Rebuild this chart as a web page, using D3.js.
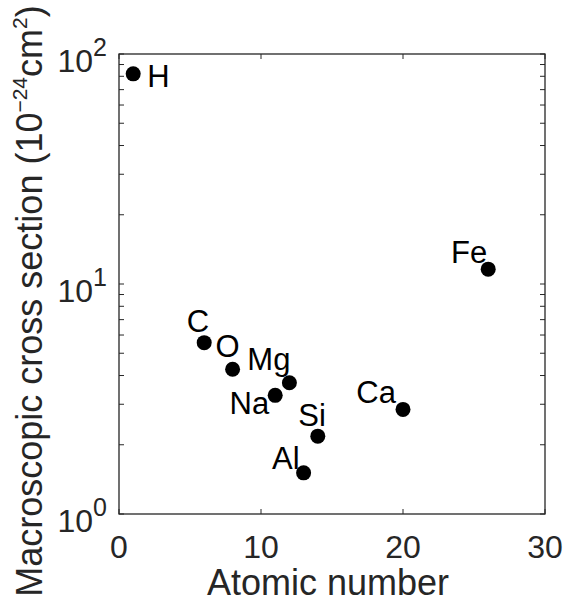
<!DOCTYPE html>
<html>
<head>
<meta charset="utf-8">
<script src="https://cdn.jsdelivr.net/npm/d3@7"></script>
<style>
  body { margin: 0; background: #fff; }
  text { font-family: "Liberation Sans", Arial, Helvetica, sans-serif; fill: #262626; }
  .dataLabel { fill: #000; }
</style>
</head>
<body>
<div id="chart"></div>
<script>
// Datos: elementos, número atómico y sección eficaz macroscópica
const elements = ["H", "C", "O", "Na", "Mg", "Al", "Si", "Ca", "Fe"]
const atomicNumber = [1, 6, 8, 11, 12, 13, 14, 20, 26]
const crossSection = [82, 5.56, 4.26, 3.28, 3.72, 1.51, 2.18, 2.85, 11.6]

const xTicks = [0, 10, 20, 30]
const yTicks = [1, 10, 100]
const yTickExp = ["0", "1", "2"]

// Posición de cada etiqueta respecto a su punto (anchor, dx, dy)
const labelPos = [
    ["start", 14, 13], ["end", 5, -11], ["start", -17, -12],
    ["end", -6, 19], ["end", 1, -13], ["end", -4, -4],
    ["end", 8, -10], ["end", -7, -6], ["end", -1, -6]
]

// ----------------------------------------------------------

const width = 563
const height = 607
const margin = { top: 54, bottom: 93, left: 119, right: 18 }
const innerW = width - margin.left - margin.right
const innerH = height - margin.top - margin.bottom
const axisColor = "#262626"

const svg = d3.select("div#chart").append("svg")
    .attr("width", width)
    .attr("height", height)

const elementGroup = svg.append("g").attr("id", "elementGroup")
    .attr("transform", `translate(${margin.left} ${margin.top})`)

// Escalas
const scaleX = d3.scaleLinear().domain([0, 30]).range([0, innerW])
const scaleY = d3.scaleLog().domain([1, 100]).range([innerH, 0])

// Ticks menores de la escala log
const minorTicks = scaleY.ticks().filter(t => !yTicks.includes(t))

const tickLen = 5
const ticksGroup = elementGroup.append("g").attr("stroke", axisColor).attr("stroke-width", 1)

// Ticks eje y (izquierda y derecha, hacia dentro)
ticksGroup.selectAll("line.yt").data(yTicks.concat(minorTicks)).enter().append("line")
    .attr("x1", 0).attr("x2", tickLen)
    .attr("y1", d => scaleY(d)).attr("y2", d => scaleY(d))
ticksGroup.selectAll("line.yr").data(yTicks.concat(minorTicks)).enter().append("line")
    .attr("x1", innerW).attr("x2", innerW - tickLen)
    .attr("y1", d => scaleY(d)).attr("y2", d => scaleY(d))
// Ticks eje x (abajo y arriba)
ticksGroup.selectAll("line.xb").data(xTicks).enter().append("line")
    .attr("x1", d => scaleX(d)).attr("x2", d => scaleX(d))
    .attr("y1", innerH).attr("y2", innerH - tickLen)
ticksGroup.selectAll("line.xt").data(xTicks).enter().append("line")
    .attr("x1", d => scaleX(d)).attr("x2", d => scaleX(d))
    .attr("y1", 0).attr("y2", tickLen)

// Caja
elementGroup.append("rect")
    .attr("x", 0).attr("y", 0)
    .attr("width", innerW).attr("height", innerH)
    .attr("fill", "none").attr("stroke", axisColor).attr("stroke-width", 1.3)

// Etiquetas de ticks
elementGroup.selectAll("text.xtick").data(xTicks).enter().append("text")
    .attr("class", "xtick")
    .attr("x", d => scaleX(d)).attr("y", innerH + 44)
    .attr("text-anchor", "middle").attr("font-size", 32)
    .text(d => d)

const yLab = elementGroup.selectAll("text.ytick").data(yTicks).enter().append("text")
    .attr("class", "ytick")
    .attr("x", -12).attr("y", d => scaleY(d) + 18)
    .attr("text-anchor", "end").attr("font-size", 32)
yLab.append("tspan").text("10")
yLab.append("tspan").attr("dy", -16).attr("font-size", 25).text((d, i) => yTickExp[i])

// Títulos de ejes
elementGroup.append("text")
    .attr("x", innerW / 2 - 4).attr("y", innerH + 81)
    .attr("text-anchor", "middle").attr("font-size", 36)
    .text("Atomic number")

const yTitle = svg.append("text")
    .attr("transform", `translate(42 301) rotate(-90)`)
    .attr("text-anchor", "middle").attr("font-size", 36)
yTitle.append("tspan").text("Macroscopic cross section (10")
yTitle.append("tspan").attr("dy", -15).attr("font-size", 21).text("\u221224")
yTitle.append("tspan").attr("dy", 15).text("cm")
yTitle.append("tspan").attr("dy", -15).attr("font-size", 21).text("2")
yTitle.append("tspan").attr("dy", 15).text(")")

// Puntos
const data = elements.map((e, i) => ({ name: e, z: atomicNumber[i], s: crossSection[i], pos: labelPos[i] }))

elementGroup.selectAll("circle").data(data).enter().append("circle")
    .attr("cx", d => scaleX(d.z))
    .attr("cy", d => scaleY(d.s))
    .attr("r", 7.5)
    .attr("fill", "#000")

elementGroup.selectAll("text.dataLabel").data(data).enter().append("text")
    .attr("class", "dataLabel")
    .attr("x", d => scaleX(d.z) + d.pos[1])
    .attr("y", d => scaleY(d.s) + d.pos[2])
    .attr("text-anchor", d => d.pos[0])
    .attr("font-size", 31)
    .text(d => d.name)
</script>
</body>
</html>
